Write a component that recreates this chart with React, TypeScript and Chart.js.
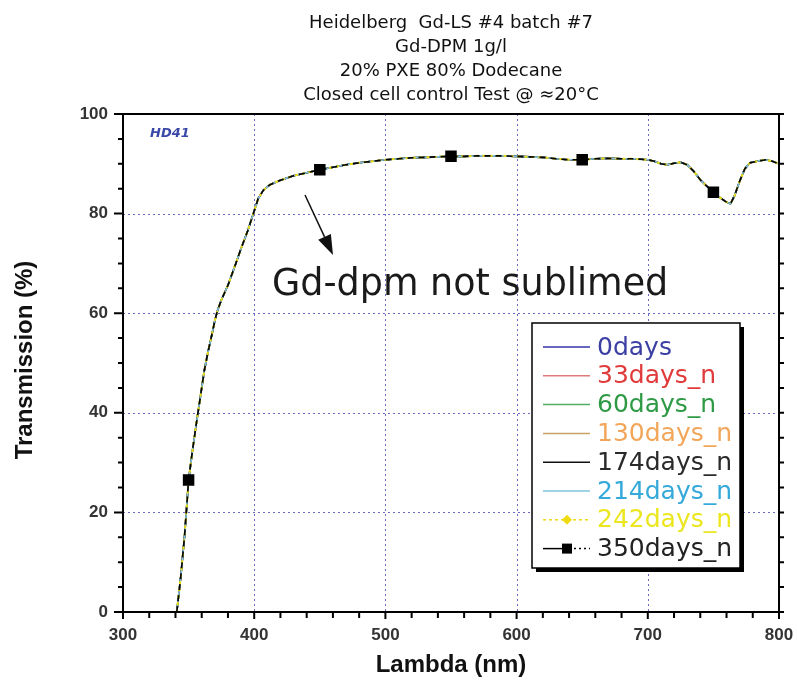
import React, { useEffect, useRef } from "react";
import { Chart, registerables } from "chart.js";

Chart.register(...registerables);

// ---- data ----
const lambdaNm = [
  341, 344, 347, 350, 353, 356, 358, 360, 362, 365, 368, 370, 372, 375, 380, 386, 390, 395, 400,
  403, 407, 412, 420, 430, 440, 450, 460, 470, 480, 490, 500, 510, 520, 530, 540, 550, 560, 570,
  580, 590, 600, 610, 620, 630, 640, 650, 660, 670, 680, 690, 700, 705, 710, 715, 720, 725, 730,
  735, 740, 745, 750, 755, 760, 763, 766, 770, 774, 778, 785, 790, 795, 800,
];
const transmission = [
  0, 7, 15.5, 26.5, 32.5, 38, 41.5, 45, 48.5, 52.5, 56, 58.5, 60.5, 62.7, 65.6, 70, 73, 76.5, 80.5,
  83, 84.7, 85.8, 86.7, 87.6, 88.2, 88.8, 89.3, 89.8, 90.2, 90.5, 90.8, 91.0, 91.2, 91.3, 91.4, 91.5, 91.5, 91.6,
  91.6, 91.6, 91.5, 91.4, 91.3, 91.0, 90.8, 90.8, 91.0, 91.1, 91.0, 91.0, 90.8, 90.5, 90.0, 89.8, 90.1, 90.3, 89.8,
  88.5, 86.8, 85.5, 84.3, 83.2, 82.3, 82.0, 83.5, 86.5, 89.0, 90.2, 90.6, 90.8, 90.5, 90.0,
];
const seriesNames = [
  "0days", "33days_n", "60days_n", "130days_n", "174days_n", "214days_n", "242days_n", "350days_n",
];
const lineColors = [
  "#3535a8", "#e07a7a", "#4fae63", "#c9a264", "#111111", "#7fc4de", "#eedc10", "#000000",
];
const legendTextColors = [
  "#3b3fa3", "#e03a3a", "#2f9a45", "#f2a65a", "#2a2a2a", "#35a9d9", "#ece61e", "#222222",
];
const markerLambda = [350, 450, 550, 650, 750];
const xTicks = [300, 400, 500, 600, 700, 800];
const yTicks = [0, 20, 40, 60, 80, 100];
const titleLines = [
  "Heidelberg  Gd-LS #4 batch #7",
  "Gd-DPM 1g/l",
  "20% PXE 80% Dodecane",
  "Closed cell control Test @ \u224820\u00B0C",
];
const xTitle = "Lambda (nm)";
const yTitle = "Transmission (%)";
const sampleLabel = "HD41";
const noteText = "Gd-dpm not sublimed";

const W = 797;
const H = 686;

const decorPlugin = {
  id: "decor",
  beforeDatasetsDraw(chart: any) {
    const { ctx, scales } = chart;
    const x = scales.x;
    const y = scales.y;
    const a = chart.chartArea;
    ctx.save();
    ctx.strokeStyle = "#6a6ac4";
    ctx.lineWidth = 1;
    ctx.setLineDash([2, 3]);
    for (const v of xTicks) {
      if (v <= x.min || v >= x.max) continue;
      const px = Math.round(x.getPixelForValue(v)) + 0.5;
      ctx.beginPath();
      ctx.moveTo(px, a.top);
      ctx.lineTo(px, a.bottom);
      ctx.stroke();
    }
    for (const v of yTicks) {
      if (v <= y.min || v >= y.max) continue;
      const py = Math.round(y.getPixelForValue(v)) + 0.5;
      ctx.beginPath();
      ctx.moveTo(a.left, py);
      ctx.lineTo(a.right, py);
      ctx.stroke();
    }
    ctx.restore();
  },
  afterDraw(chart: any) {
    const { ctx, scales } = chart;
    const x = scales.x;
    const y = scales.y;
    const a = chart.chartArea;
    ctx.save();
    ctx.setLineDash([]);
    // frame
    ctx.strokeStyle = "#000";
    ctx.lineWidth = 2;
    ctx.strokeRect(a.left, a.top, a.right - a.left, a.bottom - a.top);
    // ticks
    ctx.lineWidth = 2;
    ctx.beginPath();
    for (let v = 300; v <= 800; v += 20) {
      const px = x.getPixelForValue(v);
      const major = v % 100 === 0;
      ctx.moveTo(px, a.bottom);
      ctx.lineTo(px, a.bottom + (major ? 7 : 6));
    }
    for (let v = 0; v <= 100; v += 5) {
      const py = y.getPixelForValue(v);
      const major = v % 20 === 0;
      ctx.moveTo(a.left, py);
      ctx.lineTo(a.left - (major ? 9 : 5), py);
      ctx.moveTo(a.right, py);
      ctx.lineTo(a.right + 5, py);
    }
    ctx.stroke();

    // tick labels
    ctx.fillStyle = "#333";
    ctx.font = 'bold 17px "Liberation Sans", Arial, sans-serif';
    ctx.textAlign = "center";
    ctx.textBaseline = "middle";
    for (const v of xTicks) {
      ctx.fillText(String(v), x.getPixelForValue(v), a.bottom + 23);
    }
    ctx.textAlign = "right";
    for (const v of yTicks) {
      ctx.fillText(String(v), a.left - 15, y.getPixelForValue(v));
    }

    // axis titles
    ctx.fillStyle = "#111";
    ctx.font = 'bold 24px "Liberation Sans", Arial, sans-serif';
    ctx.textAlign = "center";
    ctx.textBaseline = "middle";
    ctx.fillText(xTitle, (a.left + a.right) / 2, 665);
    ctx.save();
    ctx.translate(25, 360);
    ctx.rotate(-Math.PI / 2);
    ctx.fillText(yTitle, 0, 0);
    ctx.restore();

    // title lines
    ctx.fillStyle = "#111";
    ctx.font = '18px "DejaVu Sans", sans-serif';
    ctx.textAlign = "center";
    ctx.textBaseline = "alphabetic";
    const baselines = [28, 52, 76, 100];
    titleLines.forEach((t, i) => ctx.fillText(t, (a.left + a.right) / 2, baselines[i]));

    // sample label
    ctx.fillStyle = "#3a48a8";
    ctx.font = 'italic bold 13px "DejaVu Sans", sans-serif';
    ctx.textAlign = "left";
    ctx.fillText(sampleLabel, 150, 137);

    // annotation arrow
    ctx.strokeStyle = "#111";
    ctx.fillStyle = "#111";
    ctx.lineWidth = 1.5;
    const x0 = 305, y0 = 195, x1 = 333, y1 = 255;
    const ang = Math.atan2(y1 - y0, x1 - x0);
    const hl = 20, hw = 7;
    const bx = x1 - hl * Math.cos(ang), by = y1 - hl * Math.sin(ang);
    ctx.beginPath();
    ctx.moveTo(x0, y0);
    ctx.lineTo(bx, by);
    ctx.stroke();
    ctx.beginPath();
    ctx.moveTo(x1, y1);
    ctx.lineTo(bx + hw * Math.sin(ang), by - hw * Math.cos(ang));
    ctx.lineTo(bx - hw * Math.sin(ang), by + hw * Math.cos(ang));
    ctx.closePath();
    ctx.fill();

    // annotation text
    ctx.fillStyle = "#1a1a1a";
    ctx.font = '34px "DejaVu Sans", sans-serif';
    const mw = ctx.measureText(noteText).width;
    const fs = 34 * 396 / mw;
    ctx.font = `${fs.toFixed(1)}px "DejaVu Sans", sans-serif`;
    ctx.textAlign = "left";
    ctx.textBaseline = "alphabetic";
    ctx.fillText(noteText, 272, 295);

    // legend
    const lx = 532, ly = 323, lw = 208, lh = 245;
    ctx.fillStyle = "#000";
    ctx.fillRect(lx + 4, ly + 4, lw, lh);
    ctx.fillStyle = "#fff";
    ctx.fillRect(lx, ly, lw, lh);
    ctx.strokeStyle = "#000";
    ctx.lineWidth = 1.5;
    ctx.strokeRect(lx, ly, lw, lh);
    ctx.font = '25px "DejaVu Sans", sans-serif';
    ctx.textBaseline = "middle";
    seriesNames.forEach((name, i) => {
      const ry = 347 + i * 28.8;
      ctx.lineWidth = 1.5;
      ctx.strokeStyle = lineColors[i];
      if (i === 6) {
        ctx.setLineDash([3, 3]);
        ctx.beginPath();
        ctx.moveTo(543, ry);
        ctx.lineTo(590, ry);
        ctx.stroke();
        ctx.setLineDash([]);
        ctx.fillStyle = lineColors[i];
        ctx.beginPath();
        ctx.moveTo(567, ry - 5);
        ctx.lineTo(572, ry);
        ctx.lineTo(567, ry + 5);
        ctx.lineTo(562, ry);
        ctx.closePath();
        ctx.fill();
      } else if (i === 7) {
        ctx.beginPath();
        ctx.moveTo(543, ry);
        ctx.lineTo(565, ry);
        ctx.stroke();
        ctx.setLineDash([2, 3]);
        ctx.beginPath();
        ctx.moveTo(569, ry);
        ctx.lineTo(590, ry);
        ctx.stroke();
        ctx.setLineDash([]);
        ctx.fillStyle = "#000";
        ctx.fillRect(562, ry - 5, 10, 10);
      } else {
        ctx.beginPath();
        ctx.moveTo(543, ry);
        ctx.lineTo(590, ry);
        ctx.stroke();
      }
      ctx.fillStyle = legendTextColors[i];
      ctx.textAlign = "left";
      ctx.fillText(name, 597, ry + 1);
    });
    ctx.restore();
  },
};

export default function App() {
  const ref = useRef<HTMLCanvasElement | null>(null);

  useEffect(() => {
    document.body.style.margin = "0";
    const canvas = ref.current;
    if (!canvas) return;
    const datasets = seriesNames.map((name, i) => {
      const base: any = {
        label: name,
        data: lambdaNm.map((l, k) => ({ x: l, y: transmission[k] })),
        borderColor: lineColors[i],
        backgroundColor: lineColors[i],
        borderWidth: 1.6,
        pointRadius: 0,
        tension: 0,
        fill: false,
        order: seriesNames.length - i,
      };
      if (i === 6) {
        base.borderDash = [3, 4];
        base.borderWidth = 2;
      }
      if (i === 7) {
        base.borderDash = [6, 5];
        base.pointStyle = "rect";
        base.pointBackgroundColor = "#000";
        base.pointBorderColor = "#000";
        base.pointRadius = (c: any) =>
          markerLambda.includes(lambdaNm[c.dataIndex]) ? 7 : 0;
      }
      return base;
    });
    const chart = new Chart(canvas, {
      type: "line",
      data: { datasets },
      options: {
        animation: false,
        responsive: false,
        devicePixelRatio: 1,
        layout: { padding: { left: 0, top: 114, right: 18, bottom: 0 } },
        plugins: { legend: { display: false }, tooltip: { enabled: false }, title: { display: false } },
        scales: {
          x: {
            type: "linear",
            min: 300,
            max: 800,
            grid: { display: false },
            border: { display: false },
            ticks: { display: false },
            afterFit: (s: any) => {
              s.height = H - 612;
            },
          },
          y: {
            type: "linear",
            min: 0,
            max: 100,
            grid: { display: false },
            border: { display: false },
            ticks: { display: false },
            afterFit: (s: any) => {
              s.width = 123;
            },
          },
        },
      } as any,
      plugins: [decorPlugin],
    });
    return () => chart.destroy();
  }, []);

  return (
    <div style={{ position: "absolute", left: 0, top: 0, width: W, height: H, background: "#fff" }}>
      <canvas ref={ref} width={W} height={H} style={{ width: W, height: H, display: "block" }} />
    </div>
  );
}
